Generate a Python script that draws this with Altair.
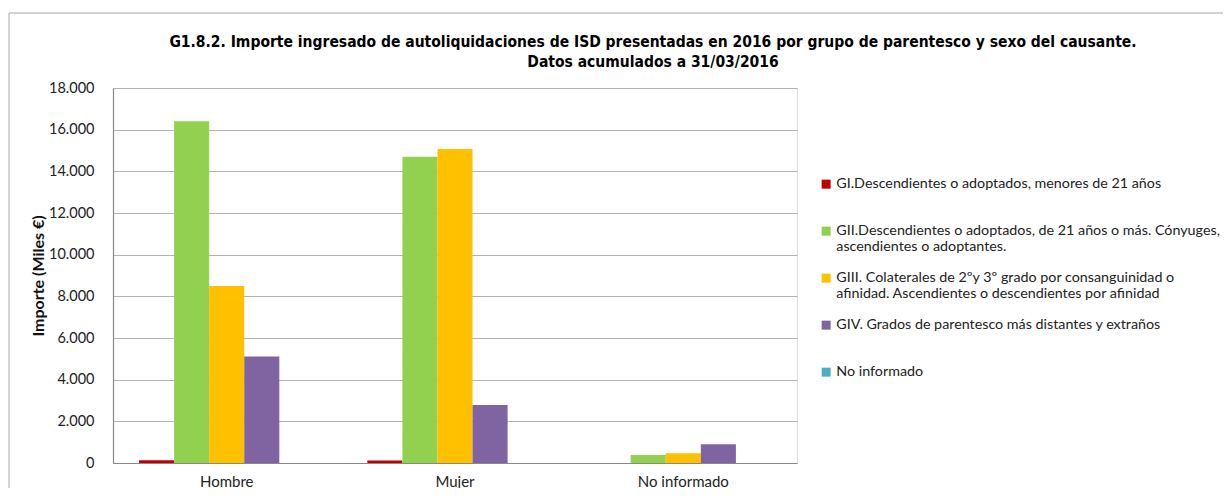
import altair as alt
import pandas as pd

categories = ["Hombre", "Mujer", "No informado"]
series = [
    "GI.Descendientes o adoptados, menores de 21 años",
    "GII.Descendientes o adoptados, de 21 años o más. Cónyuges,|ascendientes o adoptantes.",
    "GIII. Colaterales de 2ºy 3º grado por consanguinidad o|afinidad. Ascendientes o descendientes por afinidad",
    "GIV. Grados de parentesco más distantes y extraños",
    "No informado",
]
colors = ["#C00000", "#92D050", "#FFC000", "#8064A2", "#4BACC6"]
values = {
    series[0]: [130, 120, 0],
    series[1]: [16400, 14700, 390],
    series[2]: [8500, 15070, 470],
    series[3]: [5110, 2790, 900],
    series[4]: [0, 0, 0],
}

rows = []
for s in series:
    for c, v in zip(categories, values[s]):
        rows.append({"cat": c, "serie": s, "valor": v})
df = pd.DataFrame(rows)

FONT = "Lato"

bars = alt.Chart(df).mark_bar(strokeWidth=0).encode(
    x=alt.X("cat:N", sort=categories, title=None,
            scale=alt.Scale(paddingInner=0.232, paddingOuter=0.114),
            axis=alt.Axis(labelAngle=0, ticks=False, labelPadding=11, labelFontSize=15,
                          labelFont=FONT, labelColor="#222", domainColor="#888", domainWidth=1.2)),
    xOffset=alt.XOffset("serie:N", sort=series, scale=alt.Scale(paddingInner=0, paddingOuter=0)),
    y=alt.Y("valor:Q", title="Importe (Miles €)",
            scale=alt.Scale(domain=[0, 18000]),
            axis=alt.Axis(values=list(range(0, 18001, 2000)), ticks=False, labelPadding=19,
                          labelExpr="replace(format(datum.value, ','), ',', '.')",
                          labelFontSize=14.5, labelFont=FONT, labelColor="#222",
                          titleFont=FONT, titleFontSize=16, titleFontWeight="bold", titleColor="#111",
                          titlePadding=2, domainColor="#888", domainWidth=1.2,
                          gridColor="#b3b3b3", gridWidth=1.2)),
    color=alt.Color("serie:N", sort=series, scale=alt.Scale(domain=series, range=colors),
                    legend=alt.Legend(title=None, orient="none", legendX=706, legendY=89,
                                      symbolType="square", symbolSize=81, symbolStrokeWidth=0,
                                      labelFont=FONT, labelFontSize=14.3, labelColor="#222",
                                      labelLimit=600, labelOffset=3, rowPadding=16,
                                      labelExpr="indexof(datum.label, '|') < 0 ? [datum.label, ' '] : split(datum.label, '|')")),
)

# outer chart frame (decoration, top and left edges visible in the reference)
frame_df = pd.DataFrame({"k": [0]})
frame_top = alt.Chart(frame_df).mark_rule(color="#c4c4c4", strokeWidth=1.5).encode(
    x=alt.value(-104), x2=alt.value(1200), y=alt.value(-75))
frame_left = alt.Chart(frame_df).mark_rule(color="#c4c4c4", strokeWidth=1.5).encode(
    x=alt.value(-104), y=alt.value(-75), y2=alt.value(500))

chart = alt.layer(frame_top, frame_left, bars).properties(
    width=684, height=375,
    title=alt.TitleParams(
        text=["G1.8.2. Importe ingresado de autoliquidaciones de ISD presentadas en 2016 por grupo de parentesco y sexo del causante.",
              "Datos acumulados a 31/03/2016"],
        font="DejaVu Sans Condensed, Liberation Sans, sans-serif", fontSize=15.5, fontWeight="bold", color="#000",
        anchor="middle", dx=198, dy=67, offset=9, lineHeight=20),
    autosize=alt.AutoSizeParams(type="none"),
    padding={"left": 105, "top": 80, "right": 426, "bottom": 25},
).configure_view(stroke=None).configure(background="white")

chart.save("out.html", embed_options={"renderer": "svg", "actions": False})
